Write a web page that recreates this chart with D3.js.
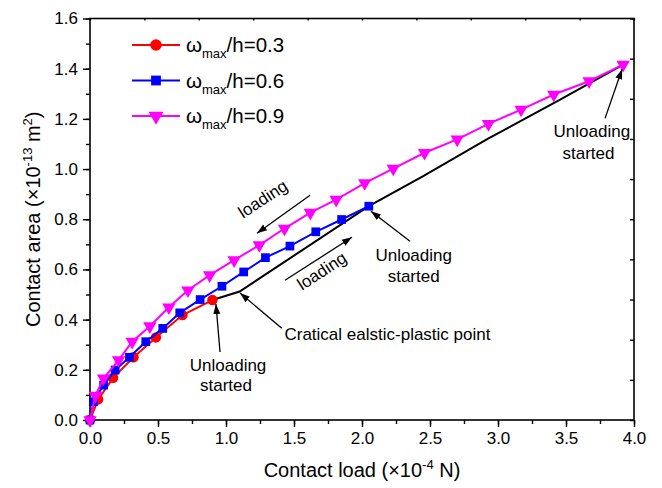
<!DOCTYPE html>
<html>
<head>
<meta charset="utf-8">
<script src="https://cdn.jsdelivr.net/npm/d3@7"></script>
<style>
  html, body { margin: 0; padding: 0; background: #fff; }
  svg { display: block; font-family: "Liberation Sans", Arial, sans-serif; }
</style>
</head>
<body>
<svg id="chart" width="662" height="488"></svg>
<script>
// Contact load (x1e-4 N) and contact area (x1e-13 m^2) during loading
const loadR = [0, 0.06, 0.17, 0.32, 0.485, 0.68, 0.90];
const areaR = [0, 0.082, 0.168, 0.25, 0.329, 0.418, 0.478];

const loadB = [0, 0.025, 0.10, 0.185, 0.29, 0.41, 0.535, 0.66, 0.81, 0.97, 1.13, 1.29, 1.47, 1.66, 1.85, 2.05];
const areaB = [0, 0.073, 0.139, 0.199, 0.25, 0.312, 0.365, 0.427, 0.48, 0.533, 0.59, 0.647, 0.693, 0.75, 0.799, 0.852];

const loadM = [0, 0.04, 0.10, 0.21, 0.31, 0.44, 0.58, 0.72, 0.88, 1.06, 1.245, 1.43, 1.62, 1.81, 2.02, 2.23, 2.46, 2.70, 2.93, 3.17, 3.41, 3.67, 3.92];
const areaM = [0, 0.097, 0.166, 0.239, 0.312, 0.374, 0.449, 0.517, 0.577, 0.637, 0.697, 0.763, 0.826, 0.878, 0.944, 1.002, 1.065, 1.118, 1.180, 1.237, 1.297, 1.350, 1.416];

// Unloading path (black), passing through the end of each loading curve
const loadU = [0.90, 1.10, 2.05, 2.45, 2.93, 3.45, 3.92];
const areaU = [0.478, 0.512, 0.852, 0.972, 1.122, 1.275, 1.416];

const seriesNames = ["0.3", "0.6", "0.9"];
const seriesColors = ["#ff0000", "#0000ff", "#ff00ff"];

const xTicks = [0, 0.5, 1.0, 1.5, 2.0, 2.5, 3.0, 3.5, 4.0];
const yTicks = [0, 0.2, 0.4, 0.6, 0.8, 1.0, 1.2, 1.4, 1.6];

const svg = d3.select("#chart");
const margin = { left: 90, right: 28, top: 18.5, bottom: 68 };
const W = 662, H = 488;

const x = d3.scaleLinear().domain([0, 4]).range([margin.left, W - margin.right]);
const y = d3.scaleLinear().domain([0, 1.6]).range([H - margin.bottom, margin.top]);

const fmt = d3.format(".1f");
const FONT = "Liberation Sans, Arial, sans-serif";

// Bottom axis: minor + major ticks
svg.append("g").attr("transform", `translate(0,${y(0)})`)
  .call(d3.axisBottom(x).tickValues(d3.range(0, 4.001, 0.25)).tickSize(4).tickFormat(""));
const xMajorAxis = svg.append("g").attr("transform", `translate(0,${y(0)})`)
  .call(d3.axisBottom(x).tickValues(xTicks).tickSize(7).tickPadding(5).tickFormat(fmt));
xMajorAxis.selectAll("text").attr("font-size", 17).attr("fill", "#000").attr("font-family", FONT);

// Left axis: minor + major ticks
svg.append("g").attr("transform", `translate(${x(0)},0)`)
  .call(d3.axisLeft(y).tickValues(d3.range(0, 1.601, 0.1)).tickSize(4).tickFormat(""));
const yMajorAxis = svg.append("g").attr("transform", `translate(${x(0)},0)`)
  .call(d3.axisLeft(y).tickValues(yTicks).tickSize(7).tickPadding(5).tickFormat(fmt));
yMajorAxis.selectAll("text").attr("font-size", 17).attr("fill", "#000").attr("font-family", FONT);

// Top and right frame ticks (inward)
svg.append("g").attr("transform", `translate(0,${y(1.6)})`)
  .call(d3.axisBottom(x).tickValues(d3.range(0, 4.001, 0.4)).tickSize(2).tickFormat(""));
const yRightAxis = svg.append("g").attr("transform", `translate(${x(4)},0)`)
  .call(d3.axisRight(y).tickValues(d3.range(0, 1.601, 0.16)).tickSize(0).tickFormat(""));
yRightAxis.selectAll(".tick line").attr("x2", -4);

svg.selectAll(".tick line").attr("stroke", "#000").attr("stroke-width", 1.4);
svg.selectAll("path.domain").remove();

svg.append("rect")
  .attr("x", x(0)).attr("y", y(1.6))
  .attr("width", x(4) - x(0)).attr("height", y(0) - y(1.6))
  .attr("fill", "none").attr("stroke", "#000").attr("stroke-width", 1.6);

// Axis titles
svg.append("text")
  .attr("x", (x(0) + x(4)) / 2).attr("y", 477)
  .attr("text-anchor", "middle").attr("font-size", 20)
  .call(t => {
    t.append("tspan").text("Contact load (×10");
    t.append("tspan").attr("font-size", 13).attr("dy", -8).text("-4");
    t.append("tspan").attr("dy", 8).text(" N)");
  });

svg.append("text")
  .attr("transform", `translate(40,${(y(0) + y(1.6)) / 2}) rotate(-90)`)
  .attr("text-anchor", "middle").attr("font-size", 20)
  .call(t => {
    t.append("tspan").text("Contact area (×10");
    t.append("tspan").attr("font-size", 13).attr("dy", -8).text("-13");
    t.append("tspan").attr("dy", 8).text(" m");
    t.append("tspan").attr("font-size", 13).attr("dy", -8).text("2");
    t.append("tspan").attr("dy", 8).text(")");
  });

// Data lines
const line = d3.line().x(d => x(d[0])).y(d => y(d[1]));
const zip = (a, b) => a.map((v, i) => [v, b[i]]);

svg.append("path")
  .datum(zip(loadU, areaU))
  .attr("d", line).attr("fill", "none").attr("stroke", "#000").attr("stroke-width", 2);

const series = [
  { pts: zip(loadR, areaR), color: seriesColors[0], symbol: d3.symbolCircle, size: 85, rot: 0 },
  { pts: zip(loadB, areaB), color: seriesColors[1], symbol: d3.symbolSquare, size: 76, rot: 0 },
  { pts: zip(loadM, areaM), color: seriesColors[2], symbol: d3.symbolTriangle, size: 78, rot: 180 }
];

series.forEach(s => {
  svg.append("path").datum(s.pts).attr("d", line)
    .attr("fill", "none").attr("stroke", s.color).attr("stroke-width", 2);
  svg.append("g").selectAll("path").data(s.pts).join("path")
    .attr("d", d3.symbol(s.symbol, s.size))
    .attr("transform", d => `translate(${x(d[0])},${y(d[1])}) rotate(${s.rot})`)
    .attr("fill", s.color);
});

// Legend
const legend = svg.append("g");
seriesNames.forEach((name, i) => {
  const ly = 45 + i * 35.5;
  const s = series[i];
  legend.append("line").attr("x1", 132).attr("x2", 180).attr("y1", ly).attr("y2", ly)
    .attr("stroke", s.color).attr("stroke-width", 2);
  legend.append("path").attr("d", d3.symbol(s.symbol, s.size + 20))
    .attr("transform", `translate(156,${ly}) rotate(${s.rot})`).attr("fill", s.color);
  const t = legend.append("text").attr("x", 186).attr("y", ly + 7).attr("font-size", 20.5);
  t.append("tspan").text("ω");
  t.append("tspan").attr("font-size", 13).attr("dy", 6).text("max");
  t.append("tspan").attr("dy", -6).text("/h=" + name);
});

// Annotations
const defs = svg.append("defs");
defs.append("marker").attr("id", "arrow")
  .attr("viewBox", "0 0 10 10").attr("refX", 10).attr("refY", 5)
  .attr("markerWidth", 10).attr("markerHeight", 10).attr("markerUnits", "userSpaceOnUse")
  .attr("orient", "auto")
  .append("path").attr("d", "M0,1.5 L10,5 L0,8.5 Z").attr("fill", "#000");

const arrows = [
  [[1.618, 0.896], [1.228, 0.744]],
  [[1.434, 0.557], [1.926, 0.728]],
  [[1.41, 0.366], [1.103, 0.506]],
  [[0.956, 0.271], [0.926, 0.462]],
  [[2.353, 0.712], [2.066, 0.832]],
  [[3.787, 1.202], [3.912, 1.398]]
];
arrows.forEach(a => {
  svg.append("line")
    .attr("x1", x(a[0][0])).attr("y1", y(a[0][1]))
    .attr("x2", x(a[1][0])).attr("y2", y(a[1][1]))
    .attr("stroke", "#000").attr("stroke-width", 1.3)
    .attr("marker-end", "url(#arrow)");
});

const notes = [
  { text: "loading", at: [1.272, 0.88], rot: -33, anchor: "middle" },
  { text: "loading", at: [1.706, 0.593], rot: -33, anchor: "middle" },
  { text: "Cratical ealstic-plastic point", at: [1.43, 0.34], rot: 0, anchor: "start" },
  { text: "Unloading", at: [1.015, 0.219], rot: 0, anchor: "middle" },
  { text: "started", at: [1.0, 0.139], rot: 0, anchor: "middle" },
  { text: "Unloading", at: [2.38, 0.656], rot: 0, anchor: "middle" },
  { text: "started", at: [2.38, 0.573], rot: 0, anchor: "middle" },
  { text: "Unloading", at: [3.69, 1.15], rot: 0, anchor: "middle" },
  { text: "started", at: [3.665, 1.061], rot: 0, anchor: "middle" }
];
notes.forEach(n => {
  svg.append("text")
    .attr("transform", `translate(${x(n.at[0])},${y(n.at[1])}) rotate(${n.rot})`)
    .attr("text-anchor", n.anchor).attr("dominant-baseline", "central")
    .attr("font-size", 17).attr("fill", "#000").text(n.text);
});
</script>
</body>
</html>
